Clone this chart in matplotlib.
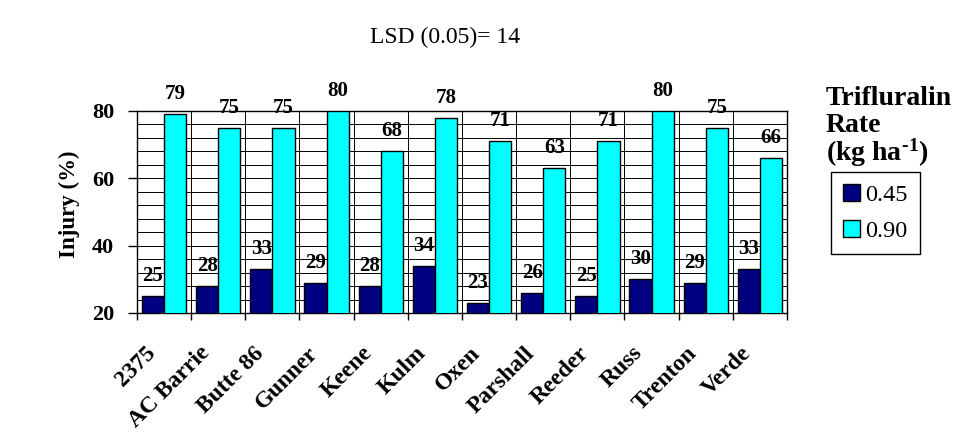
"""
Dano por trifluralina en 12 cultivares, dos dosis.
Salida: out.png
"""

import numpy as np
import matplotlib.pyplot as plt
from matplotlib.transforms import ScaledTranslation
from matplotlib.patches import Patch

# -- Datos --
CULTIVARES = ["2375", "AC Barrie", "Butte 86", "Gunner", "Keene", "Kulm",
              "Oxen", "Parshall", "Reeder", "Russ", "Trenton", "Verde"]
DOSIS_045 = [25, 28, 33, 29, 28, 34, 23, 26, 25, 30, 29, 33]
DOSIS_090 = [79, 75, 75, 80, 68, 78, 71, 63, 71, 80, 75, 66]
Y_TICKS = [20, 40, 60, 80]

plt.rcParams.update({
    "font.family": ["Liberation Serif", "DejaVu Serif"],
    "mathtext.default": "regular",
})

NAVY = "#000080"
CIAN = "#00FFFF"

fig = plt.figure(figsize=(9.62, 4.41), dpi=100)
W, H = 962, 441
ax = fig.add_axes([137 / W, 1 - 313 / H, (787 - 137) / W, (313 - 111) / H])

x = np.arange(len(CULTIVARES))
ancho = 0.41
ax.bar(x - ancho / 2, DOSIS_045, ancho, bottom=0, color=NAVY,
       edgecolor="black", linewidth=1.0, zorder=3)
ax.bar(x + ancho / 2, DOSIS_090, ancho, color=CIAN,
       edgecolor="black", linewidth=1.0, zorder=3)

# valores encima de cada barra
for xi, v in zip(x - ancho / 2, DOSIS_045):
    ax.annotate(f"{v}", (xi, v), xytext=(0, 14.4), textcoords="offset points",
                ha="center", va="center", fontsize=15, fontweight="bold",
                zorder=4)
for xi, v in zip(x + ancho / 2, DOSIS_090):
    ax.annotate(f"{v}", (xi, v), xytext=(0, 14.4), textcoords="offset points",
                ha="center", va="center", fontsize=15, fontweight="bold",
                annotation_clip=False, zorder=4)

ax.set_xlim(-0.5, len(CULTIVARES) - 0.5)
ax.set_ylim(20, 80)

# grilla: horizontal cada 4, vertical entre cultivares
for yv in np.arange(20, 81, 4):
    ax.axhline(yv, color="black", linewidth=0.7, zorder=1)
for xb in np.arange(-0.5, len(CULTIVARES), 1.0):
    ax.axvline(xb, color="black", linewidth=0.7, zorder=1)

ax.set_yticks(Y_TICKS)
ax.set_yticklabels([str(t) for t in Y_TICKS], fontsize=16, fontweight="bold")
ax.tick_params(axis="y", direction="out", length=6.5, width=1, pad=10)

ax.set_xticks(np.arange(-0.5, len(CULTIVARES), 1.0))
ax.set_xticklabels([])
ax.tick_params(axis="x", direction="out", length=5, width=1)

for s in ax.spines.values():
    s.set_color("black")
    s.set_linewidth(1.0)

# etiquetas de cultivares rotadas
off = ScaledTranslation(-12 / 100, -37 / 100, fig.dpi_scale_trans)
for xi, nombre in zip(x, CULTIVARES):
    ax.text(xi, 0, nombre, transform=ax.get_xaxis_transform() + off,
            rotation=45, rotation_mode="anchor", ha="right", va="center",
            fontsize=17, fontweight="bold")

fig.text(69 / W, 1 - 204 / H, "Injury (%)", rotation=90, ha="center",
         va="center", fontsize=16.5, fontweight="bold")

fig.text(445 / W, 1 - 43 / H, "LSD (0.05)= 14", ha="center", va="baseline",
         fontsize=17)

# titulo de la leyenda (se corta en el borde derecho)
fig.text(826 / W, 1 - 132 / H, "Trifluralin\nRate", ha="left",
         va="baseline", fontsize=20, fontweight="bold", linespacing=1.1)
fig.text(826 / W, 1 - 161 / H, "(kg ha$^{\u2010}$$^{1}$)", ha="left",
         va="baseline", fontsize=20, fontweight="bold")

handles = [Patch(facecolor=NAVY, edgecolor="black", label="0.45"),
           Patch(facecolor=CIAN, edgecolor="black", label="0.90")]
leg = fig.legend(handles=handles, loc="upper left",
                 bbox_to_anchor=(831 / W, 1 - 172 / H),
                 frameon=True, fancybox=False, edgecolor="black",
                 framealpha=1, fontsize=17.5, handlelength=0.7,
                 handleheight=0.7, handletextpad=0.2, borderpad=0.5,
                 labelspacing=0.55, borderaxespad=0)
leg.get_frame().set_linewidth(1.0)

fig.savefig("out.png", dpi=100)
